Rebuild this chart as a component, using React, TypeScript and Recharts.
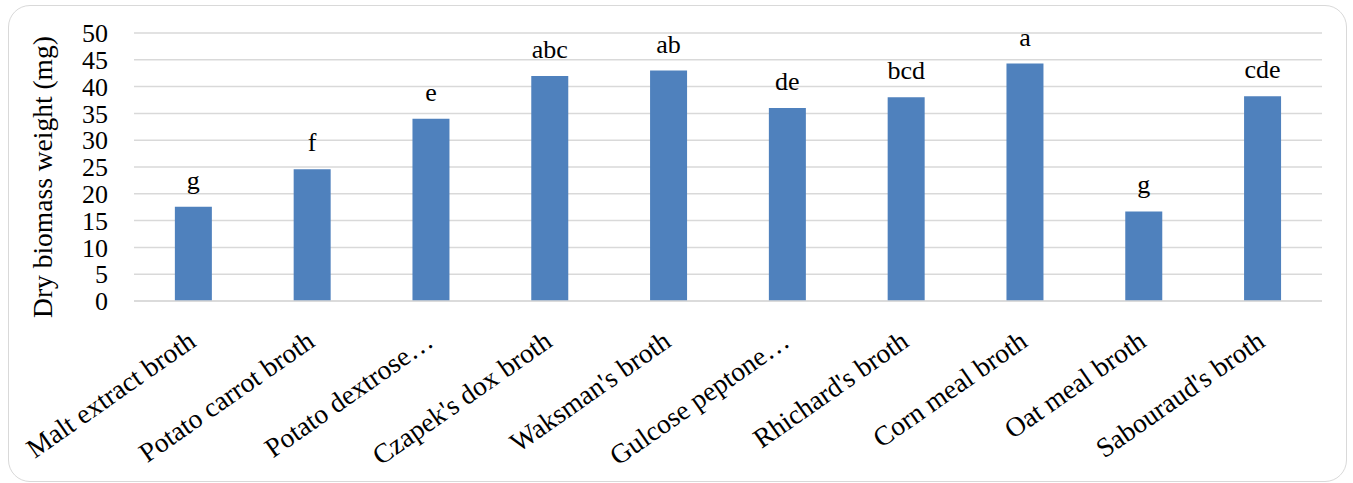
import React from "react"
import { BarChart, Bar, XAxis, YAxis, CartesianGrid, LabelList } from "recharts"

// media names, as printed on the category axis
const media = [
  "Malt extract broth",
  "Potato carrot broth",
  "Potato dextrose…",
  "Czapek's dox broth",
  "Waksman's broth",
  "Gulcose peptone…",
  "Rhichard's broth",
  "Corn meal broth",
  "Oat meal broth",
  "Sabouraud's broth",
]

// dry biomass weight (mg)
const biomass = [17.6, 24.6, 34.0, 42.0, 43.0, 36.0, 38.0, 44.3, 16.7, 38.2]

// significance letters above each bar
const groups = ["g", "f", "e", "abc", "ab", "de", "bcd", "a", "g", "cde"]

const yTicks = [0, 5, 10, 15, 20, 25, 30, 35, 40, 45, 50]

const FONT = "'Liberation Serif', 'Times New Roman', serif"

const data = media.map((name, i) => ({
  name,
  weight: biomass[i],
  group: groups[i],
}))

// rotated category labels, anchored at their right end
function CategoryTick({ x, y, payload }: { x?: number; y?: number; payload?: { value: string } }) {
  const ax = (x ?? 0) + 4
  const ay = (y ?? 0) + 44
  return (
    <text
      x={ax}
      y={ay}
      transform={`rotate(-35, ${ax}, ${ay})`}
      textAnchor="end"
      fontFamily={FONT}
      fontSize={27.5}
      fill="#000"
    >
      {payload?.value}
    </text>
  )
}

function YTitle({ viewBox }: { viewBox?: { x: number; y: number; width: number; height: number } }) {
  if (!viewBox) return null
  const cx = 52
  const cy = 177
  return (
    <text
      x={cx}
      y={cy}
      transform={`rotate(-90, ${cx}, ${cy})`}
      textAnchor="middle"
      fontFamily={FONT}
      fontSize={27.5}
      fill="#000"
    >
      Dry biomass weight (mg)
    </text>
  )
}

export default function App() {
  return (
    <div style={{ position: "absolute", left: 0, top: 0, width: 1353, height: 483, background: "#fff" }}>
      <div
        style={{
          position: "absolute",
          left: 8,
          top: 5,
          width: 1339,
          height: 477,
          boxSizing: "border-box",
          border: "1.5px solid #d9d9d9",
          borderRadius: 22,
        }}
      />
      <div style={{ position: "absolute", left: 0, top: 0 }}>
        <BarChart
          width={1353}
          height={483}
          data={data}
          margin={{ top: 33, right: 31, bottom: 32, left: 20 }}
          barCategoryGap="34.4%"
        >
          <CartesianGrid vertical={false} stroke="#d9d9d9" strokeWidth={1.5} />
          <XAxis
            dataKey="name"
            interval={0}
            height={150}
            tickSize={0}
            tickMargin={0}
            tickLine={false}
            axisLine={{ stroke: "#d9d9d9", strokeWidth: 1.5 }}
            tick={<CategoryTick />}
          />
          <YAxis
            width={114}
            domain={[0, 50]}
            ticks={yTicks}
            interval={0}
            tickSize={0}
            tickMargin={26}
            axisLine={false}
            tickLine={false}
            tick={{ fontFamily: FONT, fontSize: 26, fill: "#000" }}
            label={<YTitle />}
          />
          <Bar dataKey="weight" fill="#4f81bd" isAnimationActive={false}>
            <LabelList
              dataKey="group"
              position="top"
              offset={18}
              fontFamily={FONT}
              fontSize={26}
              fill="#000"
            />
          </Bar>
        </BarChart>
      </div>
    </div>
  )
}
